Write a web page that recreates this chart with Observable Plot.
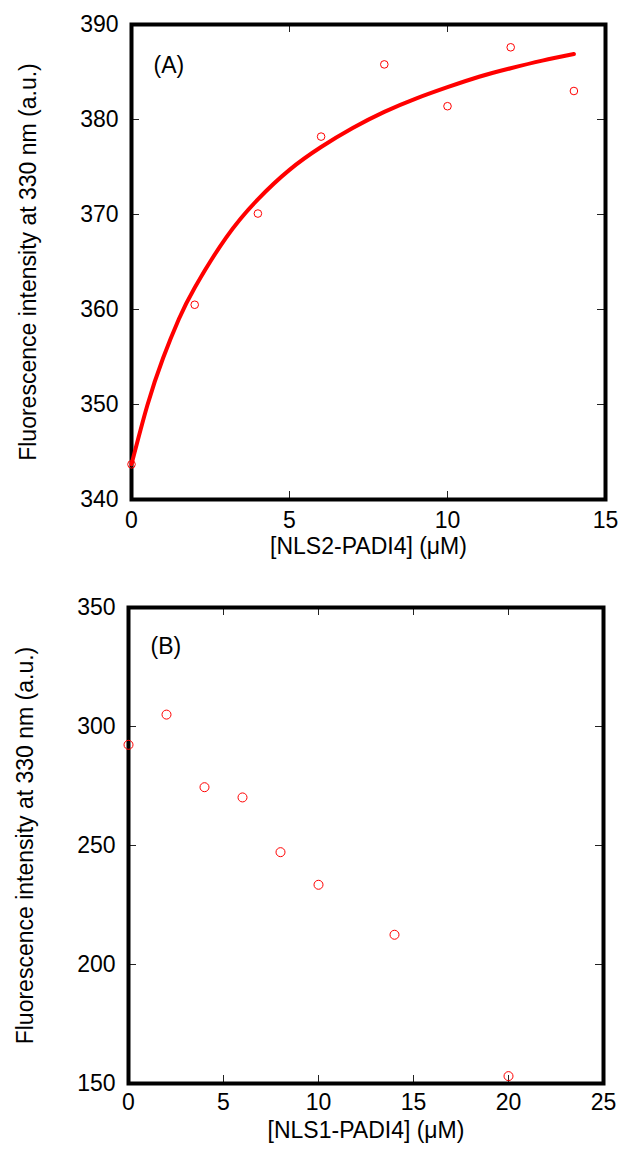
<!DOCTYPE html>
<html>
<head>
<meta charset="utf-8">
<script src="https://cdn.jsdelivr.net/npm/d3@7"></script>
<script src="https://cdn.jsdelivr.net/npm/@observablehq/plot@0.6"></script>
<style>
  html, body { margin: 0; padding: 0; background: #fff; }
  #chart svg { display: block; }
</style>
</head>
<body>
<div id="chart"></div>
<script>
// ---- Data ----
// Panel A: NLS2-PADI4 titration
const xA = [0, 2, 4, 6, 8, 10, 12, 14];
const yA = [343.7, 360.5, 370.1, 378.2, 385.8, 381.4, 387.6, 383.0];
// Fitted curve in panel A
const fitXA = [0, 0.5, 1, 1.5, 2, 3, 4, 5, 6, 7, 8, 9, 10, 11, 12, 13, 14];
const fitYA = [343.7, 349.9, 354.9, 359.0, 362.3, 367.6, 371.6, 374.7, 377.1, 379.1, 380.8, 382.2, 383.4, 384.5, 385.4, 386.2, 386.9];
// Panel B: NLS1-PADI4 titration
const xB = [0, 2, 4, 6, 8, 10, 14, 20];
const yB = [292.3, 305.0, 274.5, 270.2, 247.2, 233.5, 212.5, 153.1];

// Tick values
const xTicksA = [0, 5, 10, 15];
const yTicksA = [340, 350, 360, 370, 380, 390];
const xTicksB = [0, 5, 10, 15, 20, 25];
const yTicksB = [150, 200, 250, 300, 350];

// Texts
const panelA = ["(A)"];
const panelB = ["(B)"];
const xLabelA = ["[NLS2-PADI4] (μM)"];
const xLabelB = ["[NLS1-PADI4] (μM)"];
const yLabel = ["Fluorescence intensity at 330 nm (a.u.)"];

// ---- Drawing ----
const RED = "#ff0000";
const FONT = "'Liberation Sans', Arial, Helvetica, sans-serif";
const W = 619;

const pointsA = xA.map((x, i) => ({x, y: yA[i]}));
const fitA = fitXA.map((x, i) => ({x, y: fitYA[i]}));
const pointsB = xB.map((x, i) => ({x, y: yB[i]}));

function panel({height, mTop, mBottom, mLeft, mRight, xDomain, yDomain, xTicks, yTicks,
                points, fit, r, panelText, panelDy, xLabel, xTickPad, yTickPad}) {
  const ph = height - mTop - mBottom;
  const pw = W - mLeft - mRight;
  const innerX = xTicks.slice(1, -1);
  const innerY = yTicks.slice(1, -1);
  const tickLen = 8;
  const marks = [
    // inward ticks on all four sides
    Plot.ruleX(innerX, {x: d => d, insetTop: ph - tickLen, stroke: "#222", strokeWidth: 1}),
    Plot.ruleX(innerX, {x: d => d, insetBottom: ph - tickLen, stroke: "#222", strokeWidth: 1}),
    Plot.ruleY(innerY, {y: d => d, insetRight: pw - tickLen, stroke: "#222", strokeWidth: 1}),
    Plot.ruleY(innerY, {y: d => d, insetLeft: pw - tickLen, stroke: "#222", strokeWidth: 1}),
    Plot.frame({stroke: "#000", strokeWidth: 4}),
    Plot.axisX(xTicks, {anchor: "bottom", tickSize: 0, tickPadding: xTickPad, label: null, fill: "#000"}),
    Plot.axisY(yTicks, {anchor: "left", tickSize: 0, tickPadding: yTickPad, label: null, fill: "#000"}),
    Plot.text(xLabel, {frameAnchor: "bottom", dy: 54, fill: "#000"}),
    Plot.text(yLabel, {frameAnchor: "left", rotate: -90, textAnchor: "middle", dx: -103, fill: "#000"}),
    Plot.text(panelText, {frameAnchor: "top-left", textAnchor: "start", dx: 22, dy: panelDy, fill: "#000"})
  ];
  if (fit) marks.push(Plot.line(fit, {x: "x", y: "y", stroke: RED, strokeWidth: 4, curve: "natural"}));
  marks.push(Plot.dot(points, {x: "x", y: "y", r, stroke: RED, strokeWidth: 1, fill: "none"}));
  return Plot.plot({
    width: W,
    height,
    marginTop: mTop,
    marginBottom: mBottom,
    marginLeft: mLeft,
    marginRight: mRight,
    style: {fontFamily: FONT, fontSize: "23px", background: "#fff", color: "#000"},
    x: {domain: xDomain},
    y: {domain: yDomain},
    marks
  });
}

const chartA = panel({
  height: 575, mTop: 24, mBottom: 76, mLeft: 131, mRight: 14,
  xDomain: [0, 15], yDomain: [340, 390], xTicks: xTicksA, yTicks: yTicksA,
  points: pointsA, fit: fitA, r: 3.8, panelText: panelA, panelDy: 32,
  xLabel: xLabelA, xTickPad: 12, yTickPad: 13
});
const chartB = panel({
  height: 576, mTop: 32, mBottom: 68, mLeft: 128, mRight: 16,
  xDomain: [0, 25], yDomain: [150, 350], xTicks: xTicksB, yTicks: yTicksB,
  points: pointsB, fit: null, r: 4.5, panelText: panelB, panelDy: 30,
  xLabel: xLabelB, xTickPad: 10, yTickPad: 13
});
const root = document.getElementById("chart");
root.appendChild(chartA);
root.appendChild(chartB);
</script>
</body>
</html>
